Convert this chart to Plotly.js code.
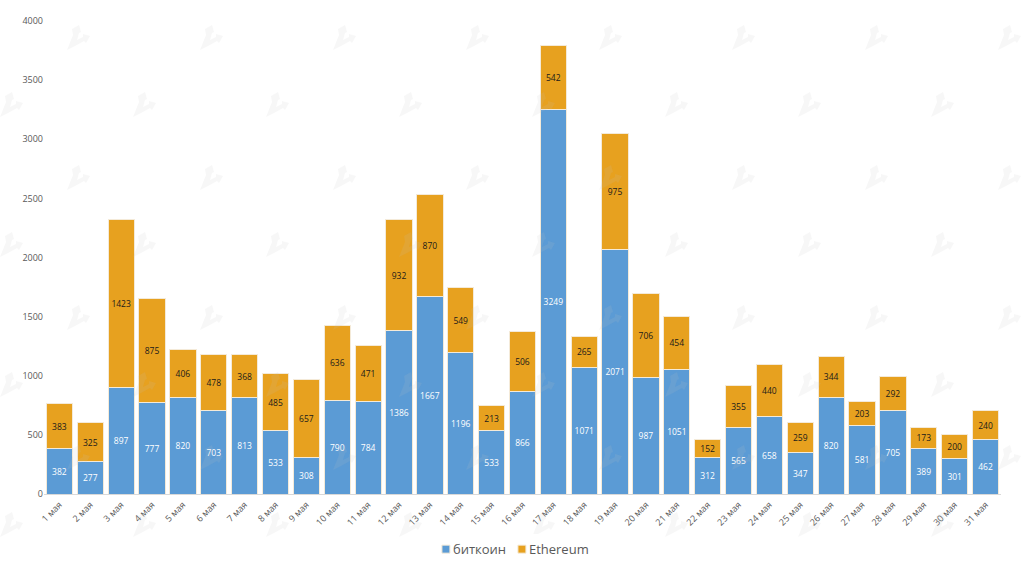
<!DOCTYPE html>
<html><head><meta charset="utf-8"><script src="https://cdn.plot.ly/plotly-3.0.1.min.js"></script>
<style>html,body{margin:0;padding:0;background:#fff}</style></head><body><div id="c" style="width:1024px;height:565px"></div>
<script>
const days=["1 мая","2 мая","3 мая","4 мая","5 мая","6 мая","7 мая","8 мая","9 мая","10 мая","11 мая","12 мая","13 мая","14 мая","15 мая","16 мая","17 мая","18 мая","19 мая","20 мая","21 мая","22 мая","23 мая","24 мая","25 мая","26 мая","27 мая","28 мая","29 мая","30 мая","31 мая"];
const btc=[382,277,897,777,820,703,813,533,308,790,784,1386,1667,1196,533,866,3249,1071,2071,987,1051,312,565,658,347,820,581,705,389,301,462];
const eth=[383,325,1423,875,406,478,368,485,657,636,471,932,870,549,213,506,542,265,975,706,454,152,355,440,259,344,203,292,173,200,240];
const font="'Open Sans', sans-serif";
function bar(name,vals,color,tc){return {type:'bar',name:name,x:days,y:vals,text:vals.map(String),textposition:'inside',insidetextanchor:'middle',textangle:0,constraintext:'none',
 insidetextfont:{family:font,size:8.5,color:tc},marker:{color:color,line:{color:'#f4ead8',width:1}},hoverinfo:'y+name'};}
const wmRows=[38,105,178,245,318,385,458,525], wmStep=133;
const logo="M-11 -12 L-5 3 L-6 9 L1 13 L3 6 L1 5 L-1 -2 L5 1 L5 4 L12 2 L8 -5 L6 -3 L-3 -8 Z";
const shapes=[];
wmRows.forEach((y,i)=>{for(let x=(i%2?11:78);x<1036;x+=wmStep){shapes.push({type:'path',layer:'above',xref:'paper',yref:'paper',xsizemode:'pixel',ysizemode:'pixel',
 xanchor:(x-44)/957,yanchor:(494-y)/473,path:logo,fillcolor:'rgba(190,190,190,0.13)',line:{width:0}});}});
Plotly.newPlot('c',[bar('биткоин',btc,'#5b9bd5','#ffffff'),bar('Ethereum',eth,'#e7a11f','#1a1a1a')],{
 width:1024,height:565,barmode:'stack',bargap:0.15,showlegend:true,paper_bgcolor:'#fff',plot_bgcolor:'#fff',
 margin:{l:44,r:23,t:21,b:71,autoexpand:false},
 font:{family:font,color:'#595959'},
 xaxis:{type:'category',tickangle:-45,tickfont:{size:9,color:'#595959'},showgrid:false,showline:true,linecolor:'#d9d9d9',linewidth:1,ticks:'',ticklabelstandoff:1,automargin:false},
 yaxis:{range:[0,4000],tick0:0,dtick:500,tickfont:{size:9,color:'#595959'},showgrid:false,zeroline:false,showline:false,ticks:'',ticklabelstandoff:8.5,automargin:false},
 legend:{orientation:'h',traceorder:'normal',x:0.4785,xanchor:'center',y:-0.085,yanchor:'top',entrywidth:31,font:{size:13,color:'#595959'},itemclick:false},
 shapes:shapes
},{displayModeBar:false,staticPlot:true}).then(()=>{
 document.querySelectorAll('.legend .legendtext').forEach(t=>t.setAttribute('x',Number(t.getAttribute('x'))-13));
 document.querySelectorAll('.legend .legendpoints path').forEach(p=>p.setAttribute('d','M4,4H-4V-4H4Z'));
 document.querySelectorAll('.legend .scrollbox').forEach(r=>r.removeAttribute('clip-path'));
});
</script></body></html>
